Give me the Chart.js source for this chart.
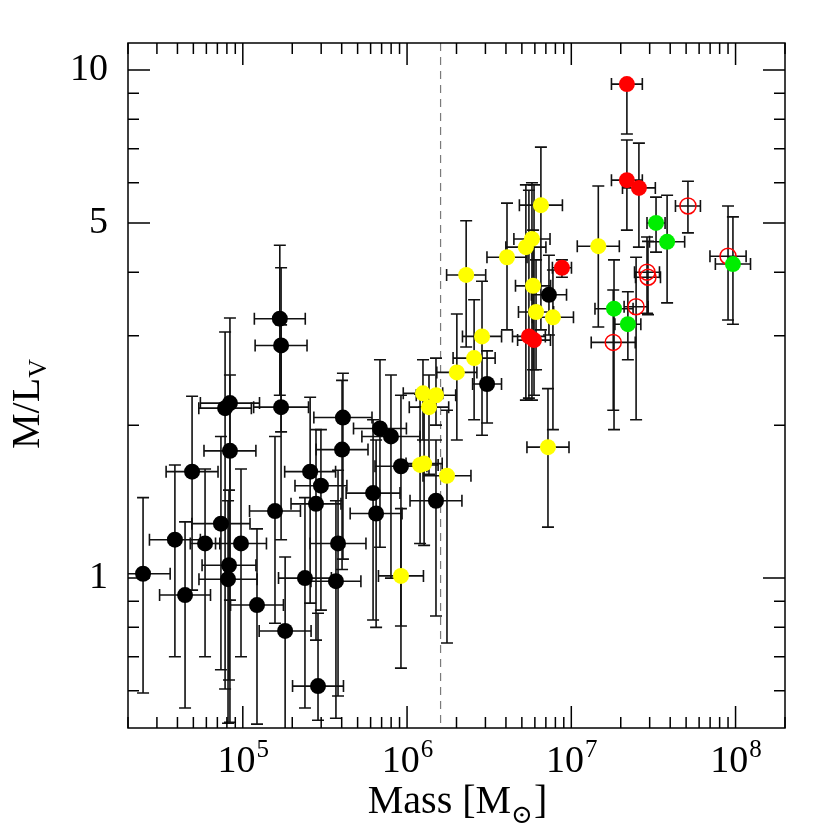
<!DOCTYPE html>
<html>
<head>
<meta charset="utf-8">
<script src="https://cdn.jsdelivr.net/npm/chart.js@4.4.1/dist/chart.umd.min.js"></script>
<style>
  html, body { margin: 0; padding: 0; background: #fff; }
</style>
</head>
<body>
<canvas id="chart" width="830" height="830"></canvas>
<script>
// Axis limits and reference line
const xMin = 2e4, xMax = 2e8;
const yMin = 0.507, yMax = 11.3;
const massCut = 1.6e6;
const xMajorTicks = [1e5, 1e6, 1e7, 1e8];
const yMajorTicks = [1, 5, 10];
const yMinorTicks = [0.6, 0.7, 0.8, 0.9, 2, 3, 4, 6, 7, 8, 9];

// Black points: mass, M/L, mass error (dex), M/L lower, M/L upper
const blackMass = [2.47e4, 3.86e4, 4.45e4, 4.91e4, 5.89e4, 7.36e4, 7.80e4, 8.35e4, 8.35e4, 8.24e4, 8.13e4, 9.75e4,
  1.22e5, 1.57e5, 1.81e5, 1.68e5, 1.71e5, 1.71e5, 2.39e5, 2.57e5, 2.99e5, 2.79e5, 2.87e5, 3.80e5, 3.69e5,
  4.07e5, 4.02e5, 6.84e5, 7.98e5, 6.21e5, 6.48e5, 9.18e5, 1.50e6, 3.07e6, 7.31e6];
const blackML = [1.02, 1.19, 0.926, 1.62, 1.17, 1.28, 2.16, 2.21, 1.78, 1.06, 0.995, 1.17,
  0.885, 1.355, 0.787, 3.24, 2.87, 2.17, 1.0, 1.62, 1.52, 1.40, 0.613, 1.17, 0.986,
  2.07, 1.79, 1.97, 1.90, 1.47, 1.34, 1.66, 1.42, 2.41, 3.61];
const blackMassErr = [0.165, 0.155, 0.155, 0.158, 0.09, 0.177, 0.16, 0.18, 0.158, 0.164, 0.177, 0.155,
  0.161, 0.155, 0.158, 0.155, 0.158, 0.167, 0.161, 0.155, 0.158, 0.152, 0.155, 0.17, 0.152,
  0.177, 0.158, 0.161, 0.177, 0.164, 0.158, 0.158, 0.158, 0.088, 0.107];
const blackMLlo = [0.594, 0.70, 0.555, 0.947, 0.70, 0.66, 0.605, 0.52, 0.905, 0.63, 0.518, 0.70,
  0.516, 0.815, 0.44, 2.29, 1.94, 1.19, 0.555, 0.893, 0.865, 0.755, 0.525, 0.586, 0.53,
  1.09, 1.04, 1.15, 1.0, 0.827, 0.80, 0.805, 0.842, 2.02, 3.01];
const blackMLhi = [1.44, 1.67, 1.29, 2.28, 1.64, 1.90, 3.05, 3.25, 2.51, 1.49, 1.42, 1.64,
  1.25, 1.90, 1.10, 4.52, 4.08, 3.15, 1.44, 2.27, 1.96, 1.96, 0.853, 1.63, 1.42,
  2.53, 2.45, 2.69, 2.51, 2.05, 1.87, 2.29, 1.87, 2.80, 4.32];

// Yellow points
const yellowMass = [9.18e5, 1.20e6, 1.27e6, 1.75e6, 1.25e6, 1.50e6, 1.36e6, 2.01e6, 2.56e6, 2.86e6,
  2.29e6, 4.06e6, 5.29e6, 5.76e6, 6.53e6, 5.85e6, 6.10e6, 7.73e6, 1.46e7, 7.21e6];
const yellowML = [1.01, 1.67, 1.68, 1.59, 2.31, 2.29, 2.17, 2.54, 2.71, 2.99,
  3.95, 4.28, 4.48, 4.65, 5.42, 3.76, 3.34, 3.26, 4.50, 1.81];
const yellowMassErr = [0.137, 0.11, 0.11, 0.146, 0.12, 0.12, 0.12, 0.122, 0.128, 0.119,
  0.119, 0.122, 0.122, 0.11, 0.131, 0.107, 0.107, 0.125, 0.128, 0.128];
const yellowMLlo = [0.665, 1.17, 1.16, 0.745, 1.87, 2.0, 1.60, 1.87, 2.05, 1.91,
  2.85, 3.08, 2.24, 2.24, 3.08, 2.57, 2.57, 1.96, 3.12, 1.26];
const yellowMLhi = [1.37, 2.30, 2.17, 2.14, 2.69, 2.71, 2.51, 3.31, 3.53, 3.84,
  5.05, 5.47, 5.94, 6.0, 7.05, 4.84, 4.23, 4.04, 5.91, 2.36];

// Red filled points
const redMass = [2.18e7, 2.18e7, 2.58e7, 8.77e6, 5.52e6, 5.93e6];
const redML = [9.38, 6.07, 5.86, 4.08, 2.99, 2.94];
const redMassErr = [0.094, 0.094, 0.10, 0.058, 0.10, 0.10];
const redMLlo = [7.48, 4.84, 4.48, 3.91, 2.26, 2.29];
const redMLhi = [9.38, 7.28, 7.18, 4.23, 5.8, 5.94];

// Red open points
const openMass = [5.13e7, 9.00e7, 2.89e7, 2.93e7, 2.48e7, 1.80e7];
const openML = [5.40, 4.30, 4.00, 3.91, 3.42, 2.91];
const openMassErr = [0.076, 0.11, 0.076, 0.076, 0.073, 0.134];
const openMLlo = [4.78, 3.22, 3.32, 3.30, 2.05, 2.14];
const openMLhi = [6.04, 5.40, 4.69, 4.60, 4.28, 3.69];

// Green points
const greenMass = [3.28e7, 3.83e7, 9.64e7, 1.82e7, 2.21e7];
const greenML = [5.00, 4.59, 4.15, 3.39, 3.16];
const greenMassErr = [0.055, 0.107, 0.107, 0.116, 0.079];
const greenMLlo = [4.38, 3.48, 3.16, 1.96, 2.69];
const greenMLhi = [5.62, 5.67, 5.14, 4.23, 3.66];

const SERIF = '"Liberation Serif", "DejaVu Serif", serif';

function toPoints(mass, ml, dex, lo, hi) {
  return mass.map((m, i) => ({
    x: m, y: ml[i],
    xLo: m / Math.pow(10, dex[i]), xHi: m * Math.pow(10, dex[i]),
    yLo: lo[i], yHi: hi[i]
  }));
}

function filled(data, color) {
  return {data: data, pointRadius: 8, pointBackgroundColor: color, pointBorderWidth: 0, pointBorderColor: color};
}

// Error bars and dashed line, drawn under the markers
const errorBars = {
  id: 'errorBars',
  beforeDatasetsDraw(chart) {
    const {ctx, chartArea: a, scales: {x, y}} = chart;
    const cap = 6;
    ctx.save();
    ctx.beginPath();
    ctx.rect(a.left, a.top, a.right - a.left, a.bottom - a.top);
    ctx.clip();

    const xc = x.getPixelForValue(massCut);
    ctx.strokeStyle = '#7a7a7a';
    ctx.lineWidth = 1.2;
    ctx.setLineDash([8, 6]);
    ctx.beginPath();
    ctx.moveTo(xc, a.top);
    ctx.lineTo(xc, a.bottom);
    ctx.stroke();
    ctx.setLineDash([]);

    ctx.strokeStyle = '#111';
    ctx.lineWidth = 1.6;
    chart.data.datasets.forEach(ds => {
      ds.data.forEach(p => {
        const px = x.getPixelForValue(p.x), py = y.getPixelForValue(p.y);
        const x0 = x.getPixelForValue(p.xLo), x1 = x.getPixelForValue(p.xHi);
        const y0 = y.getPixelForValue(p.yLo), y1 = y.getPixelForValue(p.yHi);
        ctx.beginPath();
        ctx.moveTo(x0, py); ctx.lineTo(x1, py);
        ctx.moveTo(x0, py - cap); ctx.lineTo(x0, py + cap);
        ctx.moveTo(x1, py - cap); ctx.lineTo(x1, py + cap);
        ctx.moveTo(px, y0); ctx.lineTo(px, y1);
        ctx.moveTo(px - cap, y0); ctx.lineTo(px + cap, y0);
        if (p.yHi > p.y) {
          ctx.moveTo(px - cap, y1); ctx.lineTo(px + cap, y1);
        }
        ctx.stroke();
      });
    });
    ctx.restore();
  }
};

// Box, inward ticks on all sides, x labels and axis titles
const frame = {
  id: 'frame',
  afterDraw(chart) {
    const {ctx, chartArea: a, scales: {x, y}} = chart;
    const big = 22, small = 11;
    ctx.save();
    ctx.strokeStyle = '#000';
    ctx.lineWidth = 1.5;
    ctx.strokeRect(a.left, a.top, a.right - a.left, a.bottom - a.top);

    ctx.beginPath();
    for (let e = 4; e <= 8; e++) {
      for (let k = 1; k <= 9; k++) {
        const v = k * Math.pow(10, e);
        if (v < xMin || v > xMax) continue;
        const px = x.getPixelForValue(v);
        const len = k === 1 ? big : small;
        ctx.moveTo(px, a.bottom); ctx.lineTo(px, a.bottom - len);
        ctx.moveTo(px, a.top); ctx.lineTo(px, a.top + len);
      }
    }
    yMajorTicks.concat(yMinorTicks).forEach(v => {
      const py = y.getPixelForValue(v);
      const len = yMajorTicks.includes(v) ? big : small;
      ctx.moveTo(a.left, py); ctx.lineTo(a.left + len, py);
      ctx.moveTo(a.right, py); ctx.lineTo(a.right - len, py);
    });
    ctx.stroke();

    ctx.fillStyle = '#000';
    ctx.textBaseline = 'alphabetic';
    xMajorTicks.forEach(v => {
      const px = x.getPixelForValue(v);
      const exp = String(Math.round(Math.log10(v)));
      ctx.font = '38px ' + SERIF;
      const w = ctx.measureText('10').width;
      ctx.font = '25px ' + SERIF;
      const we = ctx.measureText(exp).width;
      const left = px - (w + we) / 2;
      ctx.textAlign = 'left';
      ctx.font = '38px ' + SERIF;
      ctx.fillText('10', left, 772);
      ctx.font = '25px ' + SERIF;
      ctx.fillText(exp, left + w + 1, 757);
    });

    // x title: Mass [M_sun]
    const big1 = '40px ' + SERIF, sub = '26px ' + SERIF;
    ctx.font = big1;
    const wA = ctx.measureText('Mass [M').width;
    const wC = ctx.measureText(']').width;
    ctx.font = sub;
    const wB = ctx.measureText('\u2299').width;
    let sx = 457 - (wA + wB + wC) / 2;
    ctx.textAlign = 'left';
    ctx.font = big1;
    ctx.fillText('Mass [M', sx, 813);
    ctx.font = sub;
    ctx.fillText('\u2299', sx + wA, 823);
    ctx.font = big1;
    ctx.fillText(']', sx + wA + wB + 1, 813);

    // y title: M/L_V
    ctx.translate(39, 404);
    ctx.rotate(-Math.PI / 2);
    ctx.font = big1;
    const wM = ctx.measureText('M/L').width;
    ctx.font = sub;
    const wV = ctx.measureText('V').width;
    let tx = -(wM + wV) / 2;
    ctx.font = big1;
    ctx.fillText('M/L', tx, 0);
    ctx.font = sub;
    ctx.fillText('V', tx + wM, 7);
    ctx.restore();
  }
};

new Chart(document.getElementById('chart'), {
  type: 'scatter',
  data: {
    datasets: [
      filled(toPoints(blackMass, blackML, blackMassErr, blackMLlo, blackMLhi), '#000000'),
      filled(toPoints(yellowMass, yellowML, yellowMassErr, yellowMLlo, yellowMLhi), '#ffff00'),
      filled(toPoints(redMass, redML, redMassErr, redMLlo, redMLhi), '#ff0000'),
      filled(toPoints(greenMass, greenML, greenMassErr, greenMLlo, greenMLhi), '#00ee00'),
      {
        data: toPoints(openMass, openML, openMassErr, openMLlo, openMLhi),
        pointRadius: 8, pointBackgroundColor: 'rgba(0,0,0,0)',
        pointBorderColor: '#ff0000', pointBorderWidth: 1.5
      }
    ]
  },
  options: {
    responsive: false,
    devicePixelRatio: 1,
    animation: false,
    layout: {padding: {top: 43, right: 45, left: 0, bottom: 0}},
    plugins: {legend: {display: false}, tooltip: {enabled: false}},
    scales: {
      x: {
        type: 'logarithmic', min: xMin, max: xMax,
        grid: {display: false, drawTicks: false},
        border: {display: false},
        ticks: {display: false},
        afterFit(scale) { scale.height = 102; }
      },
      y: {
        type: 'logarithmic', min: yMin, max: yMax,
        grid: {display: false, drawTicks: false},
        border: {display: false},
        afterBuildTicks(scale) {
          scale.ticks = yMajorTicks.map(v => ({value: v}));
        },
        ticks: {
          autoSkip: false,
          padding: 20,
          color: '#000',
          font: {family: SERIF, size: 38},
          callback: v => String(v)
        },
        afterFit(scale) { scale.width = 128; }
      }
    }
  },
  plugins: [errorBars, frame]
});
</script>
</body>
</html>
